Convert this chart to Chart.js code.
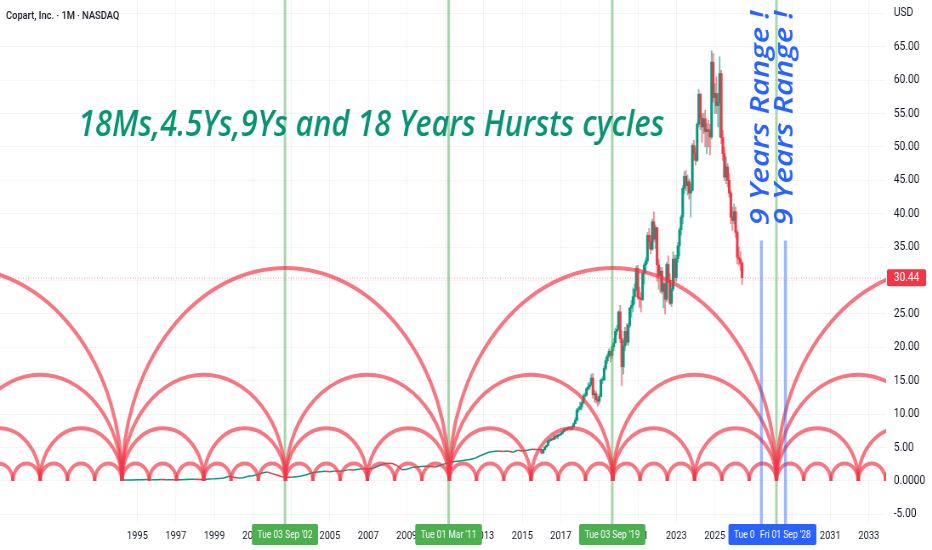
<!DOCTYPE html>
<html>
<head>
<meta charset="utf-8">
<script src="https://cdn.jsdelivr.net/npm/chart.js@4.4.1/dist/chart.umd.min.js"></script>
<style>
  html, body { margin: 0; padding: 0; background: #fff; overflow: hidden; }
  #wrap { width: 1096px; height: 550px; transform: scaleX(0.8504); transform-origin: 0 0; }
  canvas { display: block; }
</style>
</head>
<body>
<div id="wrap"><canvas id="chart" width="1096" height="550" style="width:1096px;height:550px"></canvas></div>
<script>
// quarterly closes 1994 Q2 .. 2015 Q4 (drawn as a thin line)
const earlyStart = 1994.25;
const earlyCloses = [
  0.14, 0.15, 0.16,
  0.17, 0.19, 0.22, 0.20,  0.20, 0.22, 0.19, 0.20,  0.18, 0.20, 0.23, 0.25,
  0.26, 0.24, 0.22, 0.30,  0.32, 0.38, 0.45, 0.70,  0.55, 0.45, 0.50, 0.70,
  0.80, 0.95, 1.20, 1.35,  1.10, 0.90, 0.65, 0.60,  0.55, 0.65, 0.75, 0.90,
  1.15, 1.30, 1.40, 1.45,  1.40, 1.50, 1.45, 1.55,  1.70, 1.65, 1.75, 1.85,
  1.80, 1.90, 2.20, 2.50,  2.65, 2.60, 2.30, 1.70,  1.75, 2.00, 2.10, 2.15,
  2.20, 2.15, 2.10, 2.35,  2.60, 2.80, 2.90, 3.00,  3.10, 3.20, 3.35, 3.70,
  4.00, 4.30, 4.40, 4.50,  4.40, 4.50, 4.30, 4.60,  4.50, 4.60, 4.75, 4.70
];

// monthly candles Jan 2016 .. Jun 2026
const monthStart = 2016;
const firstOpen = 4.70;
const closes = [
  4.22, 4.69, 5.10, 5.33, 6.00, 6.12, 6.30, 6.25, 6.70, 6.57, 6.85, 6.93,
  7.13, 7.38, 7.74, 7.69, 7.88, 7.95, 7.85, 8.10, 8.60, 9.10, 10.6, 10.8,
  11.1, 11.7, 12.7, 12.85, 13.8, 14.1, 14.4, 15.4, 12.9, 13.05, 12.2, 11.95,
  12.65, 15.1, 15.15, 16.85, 18.0, 18.7, 19.4, 18.8, 20.1, 20.7, 22.4, 22.7,
  25.3, 21.3, 17.1, 20.2, 22.4, 20.8, 23.3, 25.9, 26.3, 27.6, 28.7, 31.8,
  27.5, 27.3, 27.15, 31.1, 32.35, 32.95, 36.75, 35.9, 34.7, 38.8, 36.2, 37.9,
  32.35, 30.75, 31.4, 28.4, 29.5, 27.2, 32.4, 30.0, 26.6, 28.75, 33.2, 30.45,
  33.3, 35.2, 37.6, 39.5, 43.8, 45.6, 44.2, 44.8, 43.1, 43.5, 50.2, 49.0,
  48.0, 53.4, 57.9, 54.3, 53.0, 54.2, 52.3, 52.6, 52.4, 51.5, 62.7, 57.4,
  58.0, 56.2, 56.6, 61.0, 51.4, 49.0, 45.5, 47.0, 45.0, 43.1, 39.5, 39.0,
  40.3, 37.2, 33.5, 33.2, 32.6, 30.44
];
const highs = [
  4.75, 4.75, 5.15, 5.40, 6.05, 6.25, 6.40, 6.45, 6.80, 6.90, 7.00, 7.00,
  7.30, 7.50, 7.80, 7.90, 8.00, 8.10, 8.10, 8.30, 8.70, 9.50, 10.9, 11.1,
  11.8, 12.0, 13.0, 13.2, 14.0, 14.7, 14.8, 16.0, 16.1, 13.6, 13.4, 12.6,
  13.0, 15.3, 15.6, 17.2, 18.5, 19.0, 19.8, 19.5, 20.4, 21.3, 22.9, 23.3,
  25.5, 26.3, 22.5, 21.0, 23.0, 23.5, 23.6, 26.0, 27.0, 28.9, 29.5, 32.2,
  32.3, 29.0, 28.2, 31.4, 32.6, 33.4, 37.2, 37.8, 36.8, 39.2, 40.3, 38.3,
  38.0, 33.2, 32.0, 32.0, 29.8, 29.8, 32.7, 33.7, 31.0, 29.6, 34.3, 33.8,
  33.8, 35.7, 37.9, 39.8, 44.2, 46.3, 46.5, 45.8, 45.2, 44.5, 50.5, 51.0,
  49.9, 53.7, 58.6, 58.0, 55.0, 55.0, 55.5, 53.5, 54.0, 53.4, 64.4, 64.0,
  59.5, 60.5, 58.0, 63.5, 61.5, 52.5, 50.0, 48.5, 47.5, 46.0, 43.5, 41.0,
  41.5, 41.0, 37.5, 35.0, 34.3, 32.8
];
const lows = [
  4.05, 4.10, 4.60, 4.95, 5.30, 5.80, 6.00, 6.10, 6.20, 6.40, 6.30, 6.70,
  6.80, 7.00, 7.30, 7.50, 7.60, 7.70, 7.60, 7.60, 8.00, 8.50, 9.00, 10.3,
  10.7, 10.6, 11.5, 12.2, 12.7, 13.6, 13.7, 14.3, 12.4, 11.8, 11.7, 11.2,
  11.5, 12.6, 14.6, 15.0, 16.6, 17.6, 18.5, 17.8, 18.3, 19.5, 20.6, 21.9,
  22.6, 20.7, 14.3, 16.0, 19.5, 20.4, 20.3, 23.0, 24.5, 25.3, 26.5, 28.4,
  27.2, 26.0, 25.3, 27.0, 29.5, 31.2, 32.5, 34.8, 34.0, 34.5, 35.8, 34.8,
  29.9, 28.7, 28.2, 28.0, 25.9, 25.0, 26.8, 29.7, 26.4, 26.1, 28.4, 29.7,
  29.9, 32.7, 33.7, 36.8, 38.5, 43.0, 43.5, 42.8, 42.2, 39.5, 43.4, 48.0,
  47.3, 47.8, 53.0, 52.6, 50.7, 52.0, 50.0, 49.0, 50.0, 48.8, 51.2, 56.7,
  55.0, 55.0, 53.0, 51.5, 50.5, 48.0, 45.0, 44.5, 44.0, 42.5, 38.5, 37.5,
  38.5, 36.5, 32.5, 32.3, 31.5, 29.4
];

// Hurst cycle arcs: common start, period in years, arc height in USD
const cycleStart = 1994.2;
const cyclePeriods = [17 / 12, 4.25, 8.5, 17];
const cycleHeights = [2.6, 7.9, 15.9, 31.9];

const greenDates = [2002.67, 2011.17, 2019.67, 2028.2];
const greenLabels = ["Tue 03 Sep '02", "Tue 01 Mar '11", "Tue 03 Sep '19", null];
const blueDates = [2027.42, 2028.67];
const blueLabels = ["Tue 01 Jun '27", "Fri 01 Sep '28"];
const blueTop = 36;
const rangeTextStart = 38.3;

const xTicks = [1995, 1997, 1999, 2001, 2003, 2005, 2007, 2009, 2011, 2013, 2015,
  2017, 2019, 2021, 2023, 2025, 2027, 2029, 2031, 2033];
const yTicks = [-5, 0, 5, 10, 15, 20, 25, 30, 35, 40, 45, 50, 55, 60, 65, 70];

const upColor = '#089981';
const downColor = '#f23645';
const lastPrice = closes[closes.length - 1];

const earlyData = earlyCloses.map((v, i) => ({ x: earlyStart + i * 0.25, y: v }));
earlyData.push({ x: monthStart, y: firstOpen });

const bodies = [];
const wicks = [];
closes.forEach((c, i) => {
  const o = i ? closes[i - 1] : firstOpen;
  const x = monthStart + i / 12;
  const up = c >= o;
  bodies.push({ x, y: [o, c], up });
  wicks.push({ x, y: [lows[i], highs[i]], up });
});

const candleColor = (c, a) => {
  const up = c.raw && c.raw.up;
  return a ? (up ? 'rgba(8,153,129,0.6)' : 'rgba(242,54,69,0.6)') : (up ? upColor : downColor);
};

function drawLabel(ctx, cx, text, bg) {
  ctx.font = '10px Roboto';
  const w = ctx.measureText(text).width + 13;
  ctx.fillStyle = bg;
  ctx.beginPath();
  ctx.roundRect(cx - w / 2, 524, w, 21, 2);
  ctx.fill();
  ctx.fillStyle = '#ffffff';
  ctx.textAlign = 'center';
  ctx.textBaseline = 'middle';
  ctx.fillText(text, cx, 535);
}

const overlay = {
  id: 'overlay',
  afterDatasetsDraw(chart) {
    const { ctx, chartArea: a, scales: { x, y } } = chart;
    ctx.save();
    ctx.beginPath();
    ctx.rect(a.left, a.top, a.right - a.left, 550 - a.top);
    ctx.clip();

    // last price line
    const py = y.getPixelForValue(lastPrice);
    ctx.strokeStyle = 'rgba(242,54,69,0.5)';
    ctx.lineWidth = 1;
    ctx.setLineDash([1, 2]);
    ctx.beginPath();
    ctx.moveTo(a.left, py + 0.5);
    ctx.lineTo(a.right, py + 0.5);
    ctx.stroke();
    ctx.setLineDash([]);

    // green cycle lows
    ctx.strokeStyle = 'rgba(76,175,80,0.5)';
    ctx.lineWidth = 3;
    greenDates.forEach((t) => {
      const gx = x.getPixelForValue(t);
      ctx.beginPath();
      ctx.moveTo(gx, a.top);
      ctx.lineTo(gx, 524);
      ctx.stroke();
    });

    // arcs
    ctx.strokeStyle = 'rgba(242,54,69,0.68)';
    ctx.lineWidth = 4;
    const base = y.getPixelForValue(0);
    cyclePeriods.forEach((p, i) => {
      const ry = base - y.getPixelForValue(cycleHeights[i]);
      let k = Math.floor((x.min - cycleStart) / p) - 1;
      for (; cycleStart + k * p < x.max + p; k++) {
        const s = cycleStart + k * p;
        const x0 = x.getPixelForValue(s);
        const x1 = x.getPixelForValue(s + p);
        ctx.beginPath();
        ctx.ellipse((x0 + x1) / 2, base, (x1 - x0) / 2, ry, 0, Math.PI, 2 * Math.PI);
        ctx.stroke();
      }
    });

    // blue range lines
    ctx.strokeStyle = 'rgba(41,98,255,0.45)';
    ctx.lineWidth = 3.5;
    blueDates.forEach((t) => {
      const bx = x.getPixelForValue(t);
      ctx.beginPath();
      ctx.moveTo(bx, y.getPixelForValue(blueTop));
      ctx.lineTo(bx, 524);
      ctx.stroke();
    });

    // texts
    ctx.fillStyle = '#089373';
    ctx.font = 'italic 600 36px "Open Sans"';
    ctx.textAlign = 'left';
    ctx.textBaseline = 'alphabetic';
    ctx.fillText('18Ms,4.5Ys,9Ys and 18 Years Hursts cycles', 92, 136);

    ctx.fillStyle = '#2962ff';
    ctx.font = 'italic 600 31px "Open Sans"';
    ctx.textBaseline = 'middle';
    blueDates.forEach((t) => {
      ctx.save();
      ctx.translate(x.getPixelForValue(t), y.getPixelForValue(rangeTextStart));
      ctx.rotate(-Math.PI / 2);
      ctx.fillText('9 Years Range !', 0, 0);
      ctx.restore();
    });
    ctx.restore();

    // header
    ctx.save();
    ctx.fillStyle = '#131722';
    ctx.font = '500 11px Roboto';
    ctx.textAlign = 'left';
    ctx.textBaseline = 'middle';
    ctx.fillText('Copart, Inc. \u00b7 1M \u00b7 NASDAQ', 7, 16);

    // time labels
    greenDates.forEach((t, i) => {
      if (greenLabels[i]) drawLabel(ctx, x.getPixelForValue(t), greenLabels[i], '#4caf50');
    });
    blueDates.forEach((t, i) => drawLabel(ctx, x.getPixelForValue(t), blueLabels[i], '#2962ff'));

    // price label
    ctx.fillStyle = downColor;
    ctx.beginPath();
    ctx.roundRect(a.right + 1, py - 8.5, 46, 17, 2);
    ctx.fill();
    ctx.fillStyle = '#ffffff';
    ctx.font = '12px Roboto';
    ctx.textAlign = 'center';
    ctx.textBaseline = 'middle';
    ctx.fillText(lastPrice.toFixed(2), a.right + 24, py + 0.5);
    ctx.restore();
  }
};

new Chart(document.getElementById('chart'), {
  type: 'bar',
  data: {
    datasets: [
      {
        type: 'line',
        data: earlyData,
        borderWidth: 1.5,
        pointRadius: 0,
        borderColor: upColor,
        segment: { borderColor: (c) => (c.p1.parsed.y >= c.p0.parsed.y ? upColor : downColor) },
      },
      {
        data: wicks,
        barThickness: 1.2,
        grouped: false,
        backgroundColor: (c) => candleColor(c, true),
      },
      {
        data: bodies,
        barThickness: 2.4,
        grouped: false,
        minBarLength: 1,
        backgroundColor: (c) => candleColor(c, false),
      },
    ],
  },
  options: {
    responsive: false,
    animation: false,
    devicePixelRatio: 1,
    events: [],
    layout: { padding: 0 },
    plugins: { legend: { display: false }, tooltip: { enabled: false } },
    scales: {
      x: {
        type: 'linear',
        min: 1987.865,
        max: 2033.9,
        offset: false,
        afterBuildTicks: (s) => { s.ticks = xTicks.map((v) => ({ value: v })); },
        afterFit: (s) => { s.height = 28; s.paddingLeft = 0; s.paddingRight = 0; },
        grid: { color: 'rgba(42,46,57,0.05)', drawTicks: false, offset: false },
        border: { display: false },
        ticks: {
          autoSkip: false,
          maxRotation: 0,
          padding: 8,
          color: '#131722',
          font: { family: 'Roboto', size: 11 },
          callback: (v) => String(v),
        },
      },
      y: {
        position: 'right',
        min: -6.14,
        max: 72.0,
        afterBuildTicks: (s) => { s.ticks = yTicks.map((v) => ({ value: v })); },
        afterFit: (s) => { s.width = 54; s.paddingTop = 0; s.paddingBottom = 0; },
        grid: { color: 'rgba(42,46,57,0.05)', drawTicks: false },
        border: { display: false },
        ticks: {
          padding: 9,
          color: '#131722',
          font: { family: 'Roboto', size: 12 },
          callback: (v) => (v === 70 ? 'USD' : v === 0 ? '0.0000' : v.toFixed(2)),
        },
      },
    },
  },
  plugins: [overlay],
});
</script>
</body>
</html>
